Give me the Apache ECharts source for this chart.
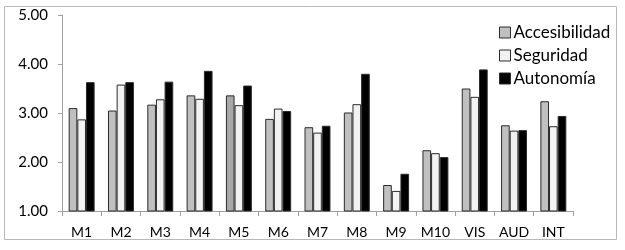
<!DOCTYPE html>
<html><head><meta charset="utf-8">
<script src="https://cdn.jsdelivr.net/npm/echarts@6/dist/echarts.min.js"></script>
<style>html,body{margin:0;padding:0;background:#fff}#c{width:625px;height:250px}</style>
</head><body><div id="c"></div>
<script>
const categories = ['M1','M2','M3','M4','M5','M6','M7','M8','M9','M10','VIS','AUD','INT'];
const accesibilidad = [3.10,3.05,3.17,3.36,3.36,2.88,2.71,3.01,1.53,2.24,3.50,2.75,3.24];
const seguridad     = [2.87,3.58,3.28,3.29,3.16,3.09,2.60,3.18,1.41,2.18,3.33,2.64,2.73];
const autonomia     = [3.63,3.63,3.64,3.86,3.56,3.04,2.74,3.80,1.76,2.10,3.89,2.65,2.94];
const yTicks = ['1.00','2.00','3.00','4.00','5.00'];

const font = 'Lato, "Open Sans", sans-serif';
const chart = echarts.init(document.getElementById('c'), null, {renderer:'canvas'});
function ser(name, data, color){
  return {name, type:'bar', data, barGap:'0%', barCategoryGap:'34%',
    itemStyle:{color, borderColor:'#2b2b2b', borderWidth:1}};
}
const s1 = ser('Accesibilidad', accesibilidad, '#c0c0c0');
s1.data = accesibilidad.map((v,i)=> i===4 ? {value:v, itemStyle:{color:'#a8a8a8'}} : v);
chart.setOption({
  animation:false,
  textStyle:{fontFamily:font},
  graphic:[{type:'rect', shape:{x:4.5,y:6.5,width:612,height:233}, style:{fill:'none', stroke:'#b8b8b8', lineWidth:1}, z:-1}],
  grid:{left:62, right:52, top:15, bottom:39},
  legend:{orient:'vertical', left:494, top:19, itemWidth:11, itemHeight:11, itemGap:6,
    icon:'rect', textStyle:{fontSize:17, color:'#000', fontFamily:font, padding:[0,0,0,-2]},
    itemStyle:{borderColor:'#2b2b2b', borderWidth:1}},
  xAxis:{type:'category', data:categories,
    axisLine:{lineStyle:{color:'#a0a0a0'}},
    axisTick:{show:true, length:5, lineStyle:{color:'#a0a0a0'}},
    axisLabel:{interval:0, fontSize:14, color:'#000', margin:14, fontFamily:font}},
  yAxis:{type:'value', min:1, max:5, interval:1,
    axisLine:{show:true, lineStyle:{color:'#a0a0a0'}},
    axisTick:{show:true, length:4, lineStyle:{color:'#a0a0a0'}},
    splitLine:{show:false},
    axisLabel:{fontSize:15, color:'#000', margin:14, fontFamily:font,
      formatter:(v)=>yTicks[Math.round(v)-1]}},
  series:[s1, ser('Seguridad', seguridad, '#f2f2f2'), ser('Autonomía', autonomia, '#000000')]
});
</script></body></html>
